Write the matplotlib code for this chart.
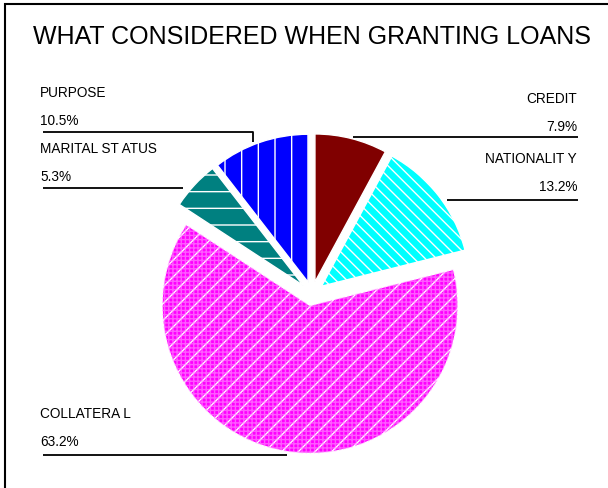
import matplotlib
matplotlib.use("Agg")
import matplotlib.pyplot as plt
from matplotlib.patches import Rectangle, Wedge

plt.rcParams['font.family'] = ['Liberation Sans', 'DejaVu Sans']

# loan criteria, clockwise from 12 o'clock
names = ["CREDIT", "NATIONALIT Y", "COLLATERA L", "MARITAL ST ATUS", "PURPOSE"]
shares = [7.9, 13.2, 63.2, 5.3, 10.5]
colours = ['#800000', '#00ffff', '#ff00ff', '#008080', '#0000ff']
hatches = ['', '\\\\\\', '//', '-', '|']

W, H = 608, 489
fig = plt.figure(figsize=(W / 100, H / 100), dpi=100)
ax = fig.add_axes([0, 0, 1, 1])

cx, cy, rad = 312, H - 294.6, 148
wedges, _ = ax.pie(shares, colors=colours, startangle=90, counterclock=False,
                   center=(cx, cy), radius=rad, explode=[12] * len(shares),
                   wedgeprops=dict(edgecolor='white', linewidth=1.0),
                   frame=True)
for w, h in zip(wedges, hatches):
    w.set_hatch(h)

# fine light grid over the collateral slice
cw = wedges[2]
ax.add_patch(Wedge(cw.center, cw.r, cw.theta1, cw.theta2, facecolor='none',
                   edgecolor='#ff99ff', hatch='++++', linewidth=0, alpha=0.6))

ax.set_xlim(0, W)
ax.set_ylim(0, H)
ax.set_aspect('equal')
ax.axis('off')

# outer frame (runs off the right and bottom edges)
fig.patches.append(Rectangle((5 / W, -0.1), 1.2, (H - 5) / H + 0.1,
                             transform=fig.transFigure, fill=False,
                             edgecolor='black', linewidth=1.5))

ax.text(312, H - 37, "WHAT CONSIDERED WHEN GRANTING LOANS", fontsize=18,
        ha='center', va='center')

# label text: (x, y of name, alignment), leader line points
label_pos = {
    "CREDIT": (577, 99, 'right'),
    "NATIONALIT Y": (577, 159, 'right'),
    "COLLATERA L": (40, 414, 'left'),
    "MARITAL ST ATUS": (40, 149, 'left'),
    "PURPOSE": (40, 93, 'left'),
}
leaders = {
    "CREDIT": [(353, 138), (578, 138)],
    "NATIONALIT Y": [(447, 201), (578, 201)],
    "COLLATERA L": [(43, 455.5), (287, 455.5)],
    "MARITAL ST ATUS": [(43, 189), (183, 189)],
    "PURPOSE": [(43, 133), (253, 133), (253, 143)],
}
for name, val in zip(names, shares):
    x, y, ha = label_pos[name]
    ax.text(x, H - y, name, fontsize=9.8, ha=ha, va='center')
    ax.text(x, H - y - 28, f"{val:.1f}%", fontsize=9.8, ha=ha, va='center')
    xs, ys = zip(*leaders[name])
    ax.plot(xs, [H - v for v in ys], color='black', linewidth=1.3,
            solid_capstyle='butt')

fig.savefig("out.png", dpi=100)
